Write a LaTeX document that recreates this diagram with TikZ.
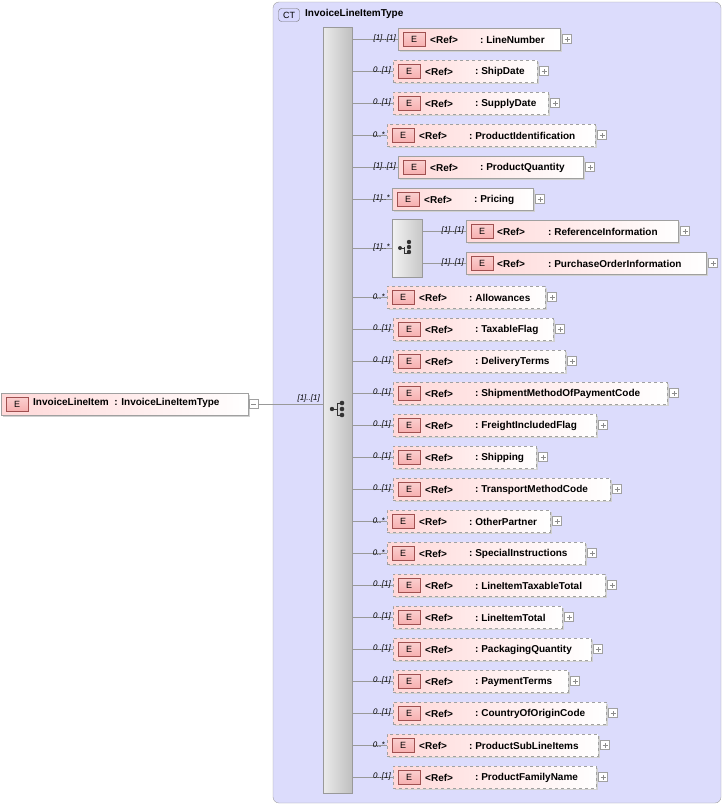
\documentclass[tikz,border=0pt]{standalone}
\usepackage{fontspec}
\setmainfont{Liberation Sans}
\usetikzlibrary{shadows}
\definecolor{ctfill}{HTML}{DCDCFC}
\definecolor{ctline}{HTML}{A0A0A0}
\definecolor{epink}{HTML}{FFD8D8}
\definecolor{ebadge}{HTML}{F7B0B0}
\definecolor{eborder}{HTML}{A05050}
\tikzset{
  elbase/.style={draw=ctline, left color=epink, right color=white, minimum height=22pt, inner sep=0, anchor=west,
     drop shadow={shadow xshift=2pt, shadow yshift=-2pt, fill=black!18, opacity=1}},
  solidbox/.style={elbase},
  dashbox/.style={elbase, dashed},
  badge/.style={draw=eborder, top color=ebadge!60, bottom color=ebadge, middle color=ebadge!80, minimum width=22pt, minimum height=14pt, inner sep=0, font=\fontsize{9}{9}\selectfont, anchor=west},
  txt/.style={font=\bfseries\fontsize{10}{10}\selectfont, inner sep=0, anchor=west},
  card/.style={font=\itshape\fontsize{8}{8}\selectfont, inner sep=0, anchor=south east},
  plusbox/.style={draw=ctline, fill=white, minimum size=9pt, inner sep=0, anchor=west},
  conn/.style={draw=black!40, line width=0.6pt},
  icon/.style={black!80, line width=0.9pt},
}
\newcommand{\plussign}[1]{\draw[black!45, line width=0.5pt] ([xshift=-2.5pt]#1.center) -- ([xshift=2.5pt]#1.center) ([yshift=-2.5pt]#1.center) -- ([yshift=2.5pt]#1.center);}
\begin{document}
\begin{tikzpicture}[x=1pt,y=-1pt]
\useasboundingbox (0,0) rectangle (725,806);
% complex type
\draw[ctline, fill=ctfill, rounded corners=6pt] (273,2) rectangle (721,803);
\node[draw=black!55, fill=ctfill!70!blue!40, rounded corners=3pt, minimum width=21pt, minimum height=13pt, inner sep=0, font=\fontsize{9}{9}\selectfont] (ctb) at (289,15) {CT};
\node[txt] (ctt) at (305,14) {InvoiceLineItemType};
% sequence bar
\node[draw=black!40, left color=black!8, right color=black!25, minimum width=29pt, minimum height=766pt, inner sep=0] (seq) at (337.5,410) {};
\begin{scope}[shift={(338,409)}, icon]
 \fill (-6,0) circle (2.2); \draw (-6,0) -- (-1,0); \draw (-1,-6) -- (-1,6);
 \draw (-1,-6)--(4,-6) (-1,6)--(4,6);
 \fill (4,-6) circle (2.3) (4,0) circle (2.3) (4,6) circle (2.3);
\end{scope}
% root element
\node[solidbox, minimum width=247pt] (root) at (1,404) {};
\node[badge] (rootE) at (6,404) {E};
\node[txt] (rootT) at (33,403) {InvoiceLineItem\ \ : InvoiceLineItemType};
\node[plusbox] (rootM) at (249,404) {};
\draw[black!45, line width=0.5pt] ([xshift=-2.5pt]rootM.center) -- ([xshift=2.5pt]rootM.center);
\draw[conn] (rootM.east) -- (seq.west |- rootM.east);
\node[card] (rootC) at (320,402) {[1]..[1]};
% elements
\foreach \i/\y/\l/\r/\c/\n/\s in {
 a/39/398/560/{[1]..[1]}/LineNumber/solidbox,
 b/71/393/537/{0..[1]}/ShipDate/dashbox,
 c/103/393/548/{0..[1]}/SupplyDate/dashbox,
 d/135/387/595/{0..*}/ProductIdentification/dashbox,
 e/167/398/583/{[1]..[1]}/ProductQuantity/solidbox,
 f/199/392/533/{[1]..*}/Pricing/solidbox,
 g/297/387/545/{0..*}/Allowances/dashbox,
 h/329/393/553/{0..[1]}/TaxableFlag/dashbox,
 i/361/393/565/{0..[1]}/DeliveryTerms/dashbox,
 j/393/393/667/{0..[1]}/ShipmentMethodOfPaymentCode/dashbox,
 k/425/393/596/{0..[1]}/FreightIncludedFlag/dashbox,
 l/457/393/536/{0..[1]}/Shipping/dashbox,
 m/489/393/610/{0..[1]}/TransportMethodCode/dashbox,
 n/521/387/550/{0..*}/OtherPartner/dashbox,
 o/553/387/585/{0..*}/SpecialInstructions/dashbox,
 p/585/393/605/{0..[1]}/LineItemTaxableTotal/dashbox,
 q/617/393/562/{0..[1]}/LineItemTotal/dashbox,
 r/649/393/591/{0..[1]}/PackagingQuantity/dashbox,
 s/681/393/568/{0..[1]}/PaymentTerms/dashbox,
 t/713/393/606/{0..[1]}/CountryOfOriginCode/dashbox,
 u/745/387/598/{0..*}/ProductSubLineItems/dashbox,
 v/777/393/596/{0..[1]}/ProductFamilyName/dashbox}{
  \pgfmathsetmacro\w{\r-\l}
  \node[\s, minimum width=\w pt] (el\i) at (\l,\y) {};
  \node[badge] (bd\i) at ([xshift=5pt]el\i.west) {E};
  \node[txt] (rf\i) at ([xshift=32pt,yshift=-1pt]el\i.west) {<Ref>};
  \node[txt] (nm\i) at ([xshift=82pt,yshift=-1pt]el\i.west) {:\ \n};
  \node[plusbox] (pl\i) at ([xshift=2pt]el\i.east) {};
  \plussign{pl\i}
  \draw[conn] (seq.east |- el\i.west) -- (el\i.west);
  \node[card] (cd\i) at ([xshift=-2pt,yshift=-3pt]el\i.west) {\c};
}
% choice
\node[draw=black!40, left color=black!5, right color=black!22, minimum width=30pt, minimum height=58pt, inner sep=0, anchor=west] (ch) at (392,248) {};
\begin{scope}[shift={(407,248)}, icon]
 \fill (-7,0) circle (2); \draw (-7,0) -- (-3,0); \draw (-3,-1) -- (-3,5) -- (1,5);
 \fill (2,-6) circle (2.2) (2,-1) circle (2.2) (2,4) circle (2.2);
\end{scope}
\draw[conn] (seq.east |- ch.west) -- (ch.west);
\node[card] (chc) at ([xshift=-2pt,yshift=-3pt]ch.west) {[1]..*};
\foreach \i/\y/\r/\n in {w/231/678/ReferenceInformation, x/263/706/PurchaseOrderInformation}{
  \pgfmathsetmacro\w{\r-466}
  \node[solidbox, minimum width=\w pt] (el\i) at (466,\y) {};
  \node[badge] (bd\i) at ([xshift=5pt]el\i.west) {E};
  \node[txt] (rf\i) at ([xshift=31pt,yshift=-1pt]el\i.west) {<Ref>};
  \node[txt] (nm\i) at ([xshift=82pt,yshift=-1pt]el\i.west) {:\ \n};
  \node[plusbox] (pl\i) at ([xshift=2pt]el\i.east) {};
  \plussign{pl\i}
  \draw[conn] (ch.east |- el\i.west) -- (el\i.west);
  \node[card] (cd\i) at ([xshift=-2pt,yshift=-3pt]el\i.west) {[1]..[1]};
}
\end{tikzpicture}
\end{document}
